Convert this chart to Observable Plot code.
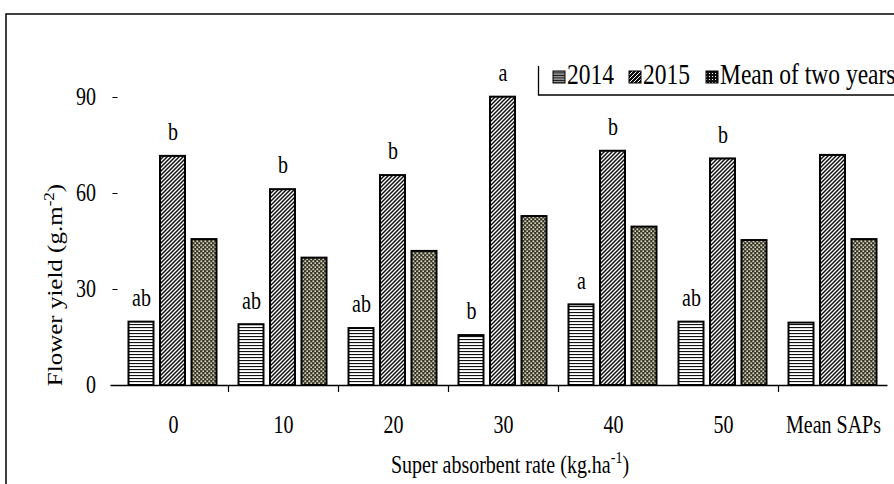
<!DOCTYPE html>
<html>
<head>
<meta charset="utf-8">
<script src="https://cdn.jsdelivr.net/npm/d3@7"></script>
<script src="https://cdn.jsdelivr.net/npm/@observablehq/plot@0.6"></script>
<style>
  html, body { margin: 0; padding: 0; background: #fff; }
  #wrap { position: relative; width: 894px; height: 484px; overflow: hidden; }
  #overlay { position: absolute; left: 0; top: 0; pointer-events: none; }
</style>
</head>
<body>
<div id="wrap">
  <div id="chart"></div>
  <svg id="overlay" width="894" height="484" xmlns="http://www.w3.org/2000/svg">
    <defs>
      <pattern id="pat0" patternUnits="userSpaceOnUse" width="6" height="3">
        <rect width="6" height="3" fill="#ffffff"/>
        <rect y="0" width="6" height="1.1" fill="#111"/>
      </pattern>
      <pattern id="pat1" patternUnits="userSpaceOnUse" width="4" height="4">
        <rect width="4" height="4" fill="#ffffff"/>
        <path d="M-1,1 l2,-2 M0,4 l4,-4 M3,5 l2,-2" stroke="#111" stroke-width="1.5"/>
      </pattern>
      <pattern id="pat2" patternUnits="userSpaceOnUse" width="4" height="4">
        <rect width="4" height="4" fill="#36362e"/>
        <rect x="0.4" y="0.4" width="1.8" height="1.8" fill="#d8d4b2"/>
        <rect x="2.4" y="2.4" width="1.8" height="1.8" fill="#d8d4b2"/>
      </pattern>
      <pattern id="lp0" patternUnits="userSpaceOnUse" width="4" height="2.5">
        <rect width="4" height="2.5" fill="#111"/>
        <rect y="1.2" width="4" height="0.9" fill="#fff"/>
      </pattern>
      <pattern id="lp1" patternUnits="userSpaceOnUse" width="4" height="4">
        <rect width="4" height="4" fill="#111"/>
        <path d="M-1,1 l2,-2 M0,4 l4,-4 M3,5 l2,-2" stroke="#fff" stroke-width="1"/>
      </pattern>
      <pattern id="lp2" patternUnits="userSpaceOnUse" width="3" height="3">
        <rect width="3" height="3" fill="#111"/>
        <rect x="1" y="1" width="1" height="1" fill="#fff"/>
      </pattern>
    </defs>
    <g id="legend"></g>
  </svg>
</div>
<script>
// ---- data ----
const categories = ["0", "10", "20", "30", "40", "50", "Mean SAPs"];
const series = ["2014", "2015", "Mean of two years"];
const values2014 = [19.8, 19.0, 17.8, 15.6, 25.2, 19.8, 19.5];
const values2015 = [71.6, 61.2, 65.6, 90.1, 73.2, 70.8, 71.9];
const valuesMean = [45.6, 39.8, 41.9, 52.8, 49.5, 45.3, 45.6];
const letters2014 = ["ab", "ab", "ab", "b", "a", "ab", ""];
const letters2015 = ["b", "b", "b", "a", "b", "b", ""];
const yTicks = [0, 30, 60, 90];
const boundaryTicks = ["10", "20", "30", "40", "Mean SAPs"]; // ticks at left edge of these groups

// ---- table ----
const seriesValues = [values2014, values2015, valuesMean];
const seriesLetters = [letters2014, letters2015, null];
const rows = [];
series.forEach((s, si) => {
  categories.forEach((c, ci) => {
    rows.push({cat: c, series: s, si, value: seriesValues[si][ci], letter: seriesLetters[si] ? seriesLetters[si][ci] : ""});
  });
});

// ---- layout ----
const W = 894, H = 484;
const mLeft = 117.5, mRight = 6.5, mTop = 97, mBottom = 99;
const band = (W - mLeft - mRight) / categories.length; // 110
const centers = [23, 54.5, 86];
const halfW = 12.5;
const font = "Liberation Serif, Times New Roman, serif";
const STRETCH = 1.22; // reference glyphs are vertically elongated

const marks = [];
series.forEach((s, si) => {
  marks.push(Plot.barY(rows.filter(r => r.si === si), {
    x: "cat", y: "value",
    fill: `url(#pat${si})`, stroke: "#000", strokeWidth: 2,
    insetLeft: centers[si] - halfW, insetRight: band - centers[si] - halfW
  }));
});
marks.push(Plot.ruleY([0], {stroke: "#000", strokeWidth: 1.5, insetLeft: -7}));
marks.push(Plot.ruleX(boundaryTicks, {x: d => d, dx: -band / 2, y1: 0, y2: 0, insetBottom: -7, stroke: "#000", strokeWidth: 1.2}));
[0, 1].forEach(si => {
  marks.push(Plot.text(rows.filter(r => r.si === si && r.letter), {
    x: "cat", y: "value", text: "letter",
    dx: centers[si] - band / 2, dy: -24, fontSize: 20, fill: "#000"
  }));
});

const chart = Plot.plot({
  width: W, height: H,
  marginLeft: mLeft, marginRight: mRight, marginTop: mTop, marginBottom: mBottom,
  style: {fontFamily: font, fontSize: "20px", color: "#000", background: "#fff", overflow: "visible"},
  x: {domain: categories, padding: 0, tickSize: 0, tickPadding: 30, label: null},
  y: {domain: [0, 90], ticks: yTicks, tickSize: 5, tickPadding: 17, label: null},
  marks
});
document.getElementById("chart").appendChild(chart);

// vertically elongate the library's text glyphs to match the reference
d3.select(chart).selectAll("text").each(function () {
  const t = this.getAttribute("transform");
  if (t && t.includes("translate")) this.setAttribute("transform", t + ` scale(1,${STRETCH})`);
});

// axis titles with superscripts
const svg = d3.select(chart);
const yt = svg.append("text")
  .attr("transform", `translate(62,285) scale(1,${STRETCH}) rotate(-90)`)
  .attr("text-anchor", "middle")
  .attr("font-family", font).attr("font-size", 20.5).attr("fill", "#000");
yt.append("tspan").text("Flower yield (g.m");
yt.append("tspan").attr("font-size", 14).attr("dy", -8).text("-2");
yt.append("tspan").attr("dy", 8).text(")");

const xt = svg.append("text")
  .attr("transform", `translate(510,473) scale(1,${STRETCH})`)
  .attr("text-anchor", "middle")
  .attr("font-family", font).attr("font-size", 20).attr("fill", "#000");
xt.append("tspan").text("Super absorbent rate (kg.ha");
xt.append("tspan").attr("font-size", 14).attr("dy", -8).text("-1");
xt.append("tspan").attr("dy", 8).text(")");

// ---- overlay: frame + legend ----
const ov = d3.select("#overlay");
ov.append("path").attr("d", "M6,484 V14 H894").attr("fill", "none").attr("stroke", "#000").attr("stroke-width", 1.5);
const lg = d3.select("#legend");
lg.append("path").attr("d", "M538.5,66 V95 H894").attr("fill", "none").attr("stroke", "#000").attr("stroke-width", 1.3);
const legendX = [553, 629, 706];
series.forEach((s, si) => {
  lg.append("rect").attr("x", legendX[si]).attr("y", 71).attr("width", 12).attr("height", 12)
    .attr("fill", `url(#lp${si})`).attr("stroke", "#000").attr("stroke-width", 1);
  lg.append("text").attr("transform", `translate(${legendX[si] + 14},84) scale(1,${STRETCH})`)
    .attr("font-family", font).attr("font-size", 23.5).attr("fill", "#000").text(s);
});
</script>
</body>
</html>
